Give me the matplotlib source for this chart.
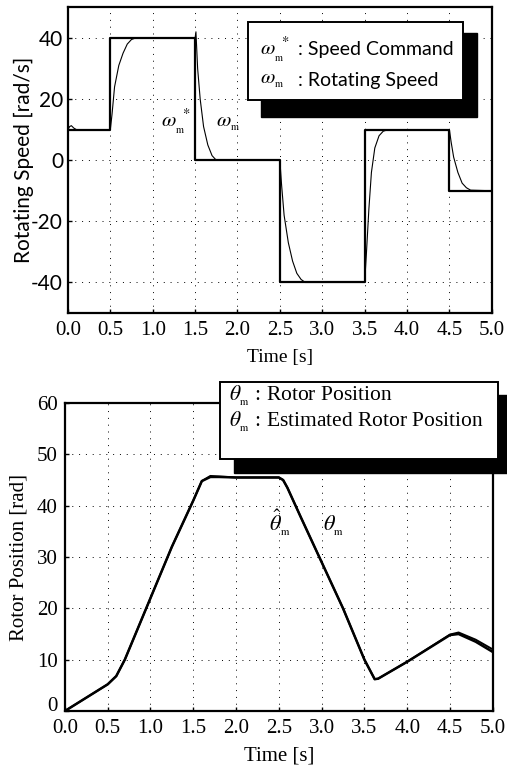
import matplotlib
matplotlib.use('Agg')
import matplotlib.pyplot as plt
from matplotlib.patches import Rectangle
from matplotlib.transforms import ScaledTranslation

plt.rcParams['font.family'] = ['Liberation Serif', 'DejaVu Serif']
plt.rcParams['mathtext.fontset'] = 'stix'
plt.rcParams['axes.unicode_minus'] = False

SANS = ['Lato', 'DejaVu Sans']

# speed command (step values)
cmd_t = [0.0, 0.5, 0.5, 1.5, 1.5, 2.5, 2.5, 3.5, 3.5, 4.5, 4.5, 5.0]
cmd_w = [10, 10, 40, 40, 0, 0, -40, -40, 10, 10, -10, -10]

# rotating speed
spd_t = [0.0, 0.02, 0.04, 0.07, 0.1, 0.5, 0.52, 0.55, 0.6, 0.65, 0.7, 0.75, 0.8,
         1.5, 1.51, 1.53, 1.56, 1.6, 1.65, 1.7, 1.75, 2.5, 2.52, 2.55, 2.6, 2.65,
         2.7, 2.75, 2.8, 3.5, 3.52, 3.55, 3.58, 3.62, 3.67, 3.72, 3.78, 4.5, 4.52,
         4.55, 4.6, 4.65, 4.7, 4.75, 5.0]
spd_w = [10, 11, 11.3, 10.5, 10, 10, 15, 24, 31, 35, 38, 39.5, 40,
         40, 42, 30, 20, 11, 5, 1.5, 0, 0, -8, -18, -27, -33,
         -37, -39, -40, -40, -31, -16, -4, 4, 8, 9.5, 10, 10, 6,
         1, -4, -7.5, -9, -9.8, -10]

# rotor position and estimated position
pos_t = [0.0, 0.5, 0.6, 0.7, 1.0, 1.25, 1.5, 1.6, 1.7, 1.8, 2.0, 2.5, 2.55, 2.6,
         2.75, 3.0, 3.25, 3.5, 3.62, 3.66, 4.0, 4.5, 4.6, 4.8, 5.0]
pos_r = [0.0, 5.2, 6.8, 10, 22, 32, 41, 44.8, 45.6, 45.6, 45.5, 45.5, 45, 43.5,
         38, 29, 20, 10, 6.2, 6.3, 9.6, 14.8, 15, 13.5, 11.5]
est_r = [0.0, 5.2, 6.8, 10, 22, 32, 41, 44.8, 45.8, 45.7, 45.5, 45.5, 45, 43.5,
         38, 29, 20, 10, 6.2, 6.3, 9.6, 14.9, 15.3, 13.9, 12.0]

xticks = [0.0, 0.5, 1.0, 1.5, 2.0, 2.5, 3.0, 3.5, 4.0, 4.5, 5.0]

fig = plt.figure(figsize=(5.07, 7.68), dpi=100)

grid_kw = dict(color='black', linestyle=(0, (1, 6)), linewidth=0.7)

# ---------- top: speed ----------
ax1 = fig.add_axes([0.134, 0.5924, 0.836, 0.398])
ax1.plot(cmd_t, cmd_w, color='black', linewidth=1.6)
ax1.plot(spd_t, spd_w, color='black', linewidth=0.8)
ax1.set_xlim(0, 5)
ax1.set_ylim(-50, 50)
ax1.set_xticks(xticks)
ax1.set_xticklabels(['%.1f' % v for v in xticks], fontsize=15)
ax1.set_yticks([-40, -20, 0, 20, 40])
ax1.set_yticklabels(['-40', '-20', '0', '20', '40'], family=SANS, fontsize=15)
ax1.grid(True, **grid_kw)
ax1.set_xlabel('Time [s]', fontsize=14, labelpad=6)
ax1.set_ylabel('Rotating Speed [rad/s]', family=SANS, fontsize=15, labelpad=-2)
ax1.tick_params(direction='in', length=3, width=1)
ax1.tick_params(axis='x', pad=6)
for s in ax1.spines.values():
    s.set_linewidth(1.6)
ax1.text(1.1, 11, r'$\omega_{_\mathrm{m}}^{\ *}$', fontsize=15)
ax1.text(1.75, 11, r'$\omega_{_\mathrm{m}}$', fontsize=15)

# legend box with shadow
fig.patches.append(Rectangle((0.515, 0.8477), 0.426, 0.109, transform=fig.transFigure,
                             facecolor='black', edgecolor='black', zorder=5))
fig.patches.append(Rectangle((0.489, 0.870), 0.424, 0.1016, transform=fig.transFigure,
                             facecolor='white', edgecolor='black', linewidth=1.4, zorder=6))
fig.text(0.513, 0.935, r'$\omega_{_\mathrm{m}}^{\ *}$', fontsize=15, va='center', zorder=7)
fig.text(0.588, 0.935, ': Speed Command', family=SANS, fontsize=14, va='center', zorder=7)
fig.text(0.513, 0.895, r'$\omega_{_\mathrm{m}}$', fontsize=15, va='center', zorder=7)
fig.text(0.588, 0.895, ': Rotating Speed', family=SANS, fontsize=14, va='center', zorder=7)

# ---------- bottom: position ----------
ax2 = fig.add_axes([0.128, 0.0742, 0.844, 0.401])
ax2.plot(pos_t, pos_r, color='black', linewidth=1.8)
ax2.plot(pos_t, est_r, color='black', linewidth=1.4)
ax2.set_xlim(0, 5)
ax2.set_ylim(0, 60)
ax2.set_xticks(xticks)
ax2.set_xticklabels(['%.1f' % v for v in xticks])
ax2.set_yticks([0, 10, 20, 30, 40, 50, 60])
ax2.grid(True, **grid_kw)
ax2.set_xlabel('Time [s]', fontsize=15, labelpad=6)
ax2.set_ylabel('Rotor Position [rad]', fontsize=15, labelpad=6)
ax2.tick_params(direction='in', labelsize=15, length=3, width=1)
ax2.tick_params(axis='x', pad=6)
ax2.tick_params(axis='y', pad=5)
# lift the "0" label a little so it clears "0.0"
lab0 = ax2.get_yticklabels()[0]
lab0.set_transform(lab0.get_transform() + ScaledTranslation(0, 5 / 72, fig.dpi_scale_trans))
for s in ax2.spines.values():
    s.set_linewidth(1.6)
ax2.text(2.38, 35, r'$\hat{\theta}_{_\mathrm{m}}$', fontsize=16)
ax2.text(3.02, 35, r'$\theta_{_\mathrm{m}}$', fontsize=16)

fig.patches.append(Rectangle((0.4615, 0.3841), 0.539, 0.1016, transform=fig.transFigure,
                             facecolor='black', edgecolor='black', zorder=5))
fig.patches.append(Rectangle((0.434, 0.4023), 0.548, 0.1003, transform=fig.transFigure,
                             facecolor='white', edgecolor='black', linewidth=1.4, zorder=6))
fig.text(0.452, 0.484, r'$\theta_{_\mathrm{m}}$ : Rotor Position', fontsize=15.5,
         va='center', zorder=7)
fig.text(0.452, 0.450, r'$\theta_{_\mathrm{m}}$ : Estimated Rotor Position', fontsize=15.5,
         va='center', zorder=7)

fig.savefig('out.png', dpi=100)
